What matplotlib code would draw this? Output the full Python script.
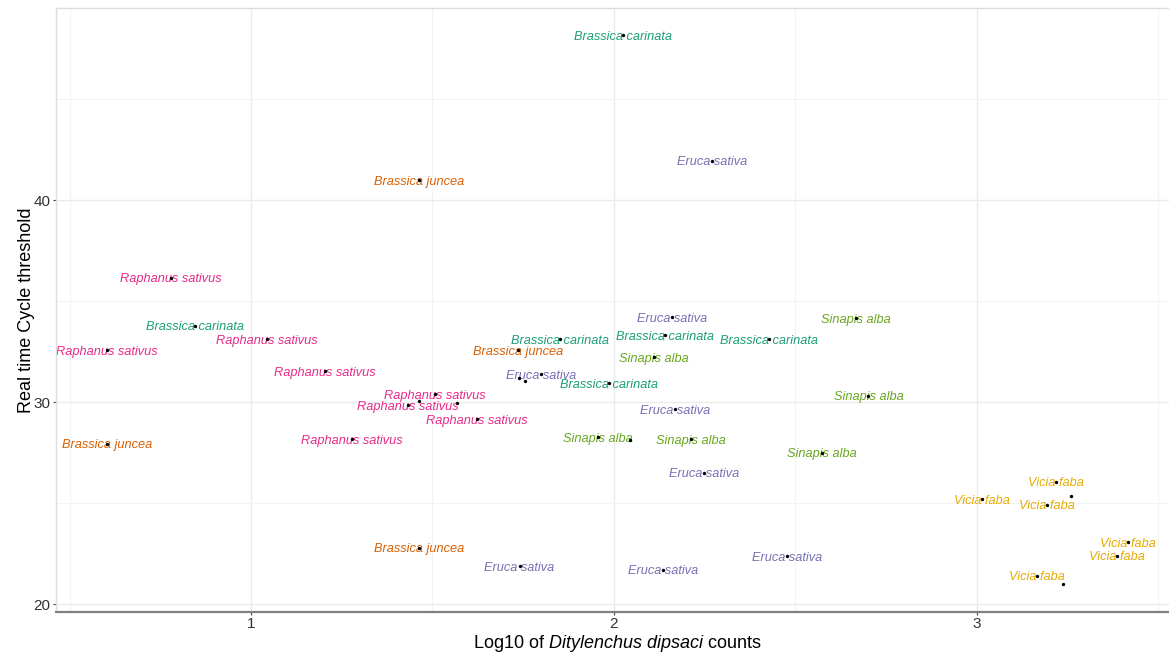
import matplotlib
matplotlib.use("Agg")
import matplotlib.pyplot as plt
from matplotlib.ticker import FixedLocator

plt.rcParams["font.family"] = ["Liberation Sans", "DejaVu Sans"]
plt.rcParams["mathtext.fontset"] = "custom"
plt.rcParams["mathtext.rm"] = "Liberation Sans"
plt.rcParams["mathtext.it"] = "Liberation Sans:italic"

# Log10 nematode counts (x) and real-time PCR Ct values (y) per plant species
species = ["Brassica carinata", "Brassica juncea", "Eruca sativa",
           "Raphanus sativus", "Sinapis alba", "Vicia faba"]

carinata_log = [2.026, 0.846, 1.851, 2.140, 2.427, 1.987]
carinata_ct = [48.18, 33.78, 33.12, 33.33, 33.12, 30.93]

juncea_log = [1.463, 1.735, 0.604, 1.463]
juncea_ct = [41.00, 32.59, 27.94, 22.79]

eruca_log = [2.271, 2.160, 1.799, 2.168, 2.249, 1.740, 2.136, 2.476]
eruca_ct = [41.95, 34.20, 31.38, 29.65, 26.51, 21.87, 21.71, 22.39]

raphanus_log = [0.779, 0.602, 1.043, 1.204, 1.277, 1.506, 1.433, 1.623]
raphanus_ct = [36.17, 32.59, 33.13, 31.55, 28.18, 30.40, 29.85, 29.17]

sinapis_log = [2.667, 2.109, 2.701, 1.955, 2.212, 2.574]
sinapis_ct = [34.16, 32.24, 30.33, 28.27, 28.17, 27.50]

vicia_log = [3.218, 3.013, 3.192, 3.416, 3.385, 3.166]
vicia_ct = [26.07, 25.20, 24.92, 23.07, 22.41, 21.42]

# Samples whose labels were suppressed (overplotted)
unlabelled_log = [1.739, 1.755, 1.463, 1.568, 2.044, 3.258, 3.236]
unlabelled_ct = [31.22, 31.07, 30.08, 29.95, 28.13, 25.36, 20.99]

x_ticks = [1, 2, 3]
y_ticks = [20, 30, 40]

palette = ["#1B9E77", "#D95F02", "#7570B3", "#E7298A", "#66A61E", "#E6AB02"]

series = [
    (carinata_log, carinata_ct),
    (juncea_log, juncea_ct),
    (eruca_log, eruca_ct),
    (raphanus_log, raphanus_ct),
    (sinapis_log, sinapis_ct),
    (vicia_log, vicia_ct),
]

fig = plt.figure(figsize=(11.69, 6.53), dpi=100)
ax = fig.add_axes([56 / 1169, 1 - 611.7 / 653, 1 - 56 / 1169, (611.7 - 8) / 653])

ax.set_xlim(0.4628, 3.529)
ax.set_ylim(19.63, 49.52)

# grid
ax.xaxis.set_major_locator(FixedLocator(x_ticks))
ax.yaxis.set_major_locator(FixedLocator(y_ticks))
ax.xaxis.set_minor_locator(FixedLocator([0.5, 1.5, 2.5, 3.5]))
ax.yaxis.set_minor_locator(FixedLocator([25, 35, 45]))
ax.grid(which="major", color="#EBEBEB", linewidth=1.0)
ax.grid(which="minor", color="#F3F3F3", linewidth=0.8)
ax.set_axisbelow(True)
ax.tick_params(which="minor", length=0)
ax.tick_params(which="major", length=2.5, width=0.8, color="#444444",
               labelsize=11, labelcolor="#333333", pad=1.5)

for side in ("top", "left"):
    ax.spines[side].set_color("#DDDDDD")
    ax.spines[side].set_linewidth(1.0)
ax.spines["right"].set_visible(False)
ax.spines["bottom"].set_color("#808080")
ax.spines["bottom"].set_linewidth(1.6)

# labels and points
all_x, all_y = [], []
for name, color, (xs, ys) in zip(species, palette, series):
    for xv, yv in zip(xs, ys):
        ax.annotate(name, (xv, yv), xytext=(0, -3.3), textcoords="offset points",
                    ha="center", va="baseline", style="italic", color=color,
                    fontsize=9.2, zorder=2)
    all_x.extend(xs)
    all_y.extend(ys)
all_x.extend(unlabelled_log)
all_y.extend(unlabelled_ct)
ax.scatter(all_x, all_y, s=6, c="black", linewidths=0, zorder=3)

ax.set_xlabel(r"Log10 of $\mathit{Ditylenchus\ dipsaci}$ counts", fontsize=13, color="black")
ax.set_ylabel("Real time Cycle threshold", fontsize=13, color="black")
ax.xaxis.set_label_coords(0.5045, -0.035)
ax.yaxis.set_label_coords(-0.019, 0.5)

fig.savefig("out.png", dpi=100)
